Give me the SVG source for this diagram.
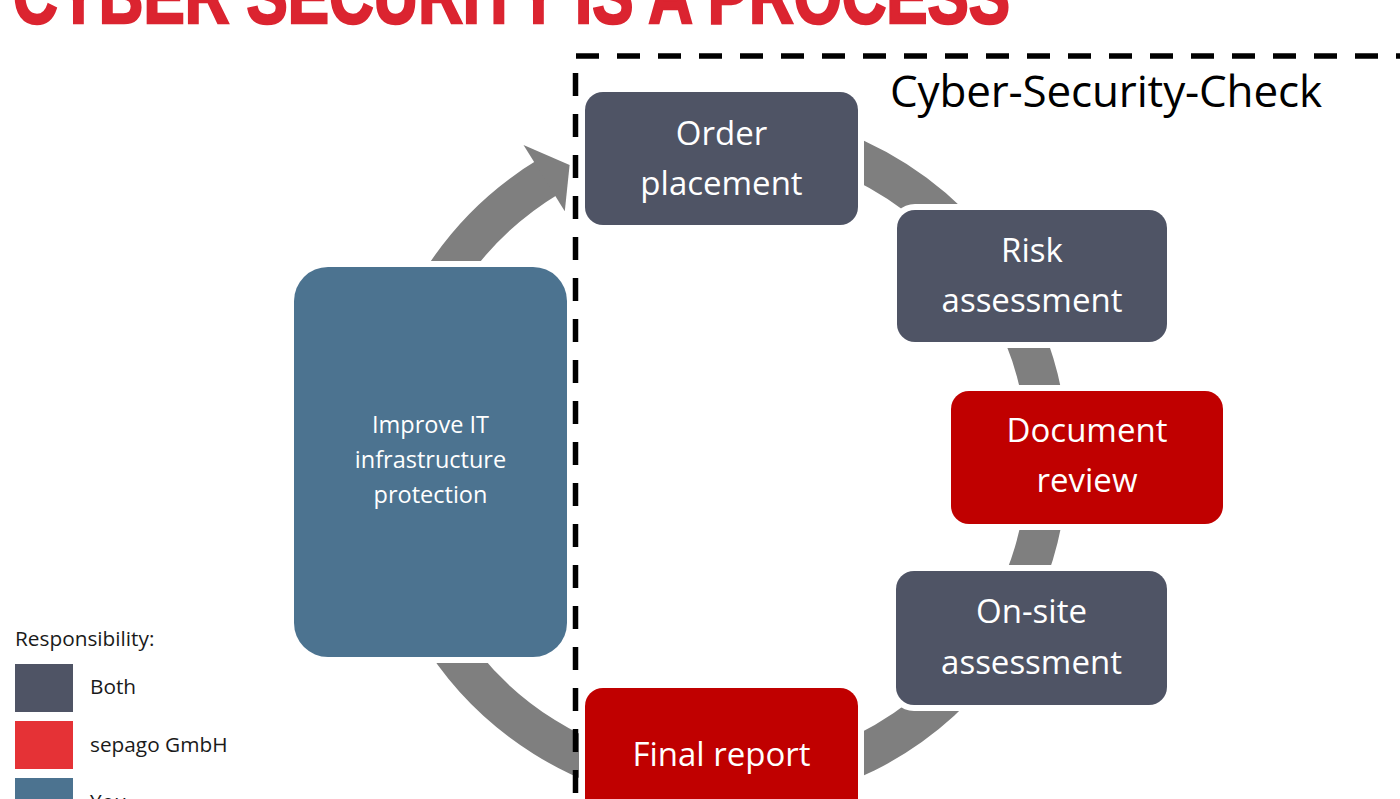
<svg xmlns="http://www.w3.org/2000/svg" width="1400" height="799" viewBox="0 0 1400 799">
<style>
.box-t{font-family:"Open Sans","Liberation Sans",sans-serif;font-size:33px;fill:#ffffff;text-anchor:middle}
.small-t{font-family:"Open Sans","Liberation Sans",sans-serif;font-size:23.5px;fill:#ffffff;text-anchor:middle}
.leg-t{font-family:"Open Sans","Liberation Sans",sans-serif;font-size:20.8px;fill:#1a1a1a}
.halo{fill:#ffffff}
.both{fill:#4f5465}
.red{fill:#c00000}
.you{fill:#4c7390}
.dash{stroke:#000000;stroke-width:5.5;stroke-dasharray:23 18;fill:none}
</style>
<rect x="0" y="0" width="1400" height="799" fill="#ffffff"/>

<g id="title">
<text x="13" y="23" font-family="Liberation Sans, Arial, sans-serif" font-weight="700" font-size="80" fill="#db2430" stroke="#db2430" stroke-width="2.5" textLength="997" lengthAdjust="spacingAndGlyphs">CYBER SECURITY IS A PROCESS</text>
</g>

<g id="connectors">
<path d="M 595.8 153 A 329 329 0 1 1 549.6 176" fill="none" stroke="#7f7f7f" stroke-width="40"/>
<polygon points="523.5,145.1 569.6,164.9 564.8,211.2" fill="#7f7f7f"/>
</g>

<g id="halos">
<rect class="halo" x="579" y="86" width="285" height="145" rx="24"/>
<rect class="halo" x="891" y="204" width="282" height="144" rx="24"/>
<rect class="halo" x="945" y="385" width="284" height="145" rx="24"/>
<rect class="halo" x="890" y="565" width="283" height="146" rx="24"/>
<rect class="halo" x="579" y="682" width="285" height="145" rx="24"/>
<rect class="halo" x="288" y="261" width="285" height="402" rx="40"/>
</g>

<g id="order-placement">
<rect class="both" x="585" y="92" width="273" height="133" rx="18"/>
<text class="box-t" x="721.5" y="145">Order</text>
<text class="box-t" x="721.5" y="195">placement</text>
</g>

<g id="risk-assessment">
<rect class="both" x="897" y="210" width="270" height="132" rx="18"/>
<text class="box-t" x="1032" y="262">Risk</text>
<text class="box-t" x="1032" y="312">assessment</text>
</g>

<g id="document-review">
<rect class="red" x="951" y="391" width="272" height="133" rx="18"/>
<text class="box-t" x="1087" y="442">Document</text>
<text class="box-t" x="1087" y="492">review</text>
</g>

<g id="on-site-assessment">
<rect class="both" x="896" y="571" width="271" height="134" rx="18"/>
<text class="box-t" x="1031.5" y="623">On-site</text>
<text class="box-t" x="1031.5" y="674">assessment</text>
</g>

<g id="final-report">
<rect class="red" x="585" y="688" width="273" height="133" rx="18"/>
<text class="box-t" x="721.5" y="766">Final report</text>
</g>

<g id="improve">
<rect class="you" x="294" y="267" width="273" height="390" rx="34"/>
<text class="small-t" x="430.5" y="433">Improve IT</text>
<text class="small-t" x="430.5" y="468">infrastructure</text>
<text class="small-t" x="430.5" y="503">protection</text>
</g>

<g id="cyber-security-check">
<line class="dash" x1="576" y1="56" x2="1400" y2="56"/>
<line class="dash" x1="575.5" y1="73" x2="575.5" y2="799"/>
<text x="890" y="107" font-family="Open Sans, Liberation Sans, sans-serif" font-size="44" fill="#000000" textLength="432">Cyber-Security-Check</text>
</g>

<g id="legend">
<text class="leg-t" x="15" y="646">Responsibility:</text>
<rect x="15" y="664" width="58" height="48" fill="#4f5465"/>
<text class="leg-t" x="90" y="694">Both</text>
<rect x="15" y="721" width="58" height="48" fill="#e53236"/>
<text class="leg-t" x="90" y="752">sepago GmbH</text>
<rect x="15" y="778" width="58" height="48" fill="#4c7390"/>
<text class="leg-t" x="90" y="809">You</text>
</g>
</svg>
